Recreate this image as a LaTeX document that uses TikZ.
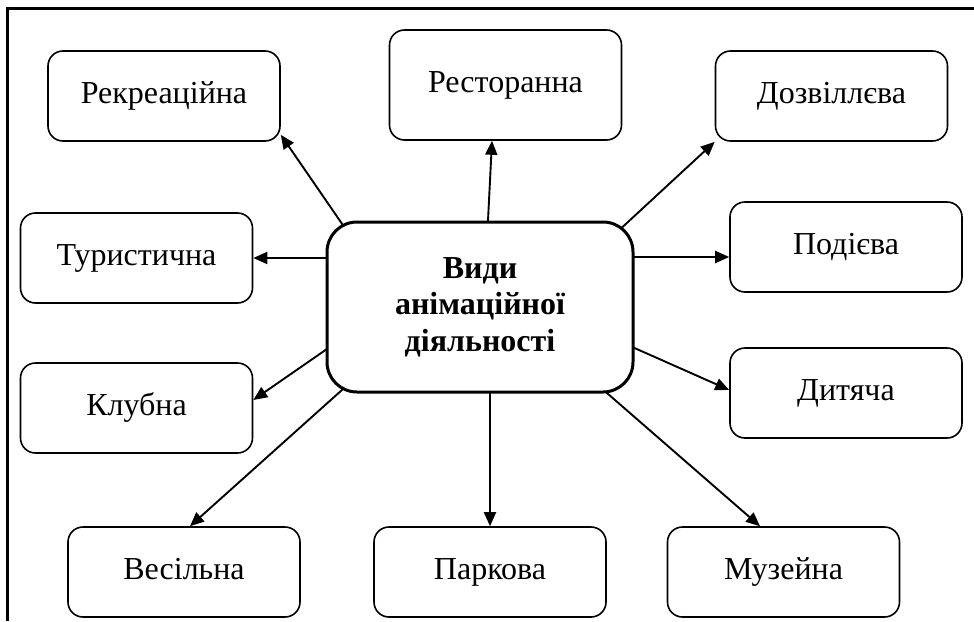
\documentclass[tikz,border=0pt]{standalone}
\usepackage{fontspec}
\setmainfont{Liberation Serif}
\usetikzlibrary{arrows.meta,backgrounds}
\begin{document}
\begin{tikzpicture}[x=1pt,y=-1pt,
  kind/.style={draw,fill=white,line width=1.6pt,rounded corners=15pt,
    minimum width=232pt,minimum height=90pt,inner sep=0pt,
    font=\fontsize{32}{36}\selectfont,text height=22pt,text depth=7pt},
  hub/.style={draw,fill=white,line width=3pt,rounded corners=30pt,
    minimum width=306pt,minimum height=170pt,inner sep=0pt,align=center,
    font=\fontsize{32}{36.5}\selectfont\bfseries},
  conn/.style={line width=1.9pt,shorten <=-8pt,
    -{Triangle[length=14pt,width=12pt]}},
  frame/.style={line width=3pt}]
\useasboundingbox (0,0) rectangle (974,621);
\draw[frame] (974,8) -- (7,8) -- (7,621);

\node[hub] (c) at (480,307) {Види\\анімаційної\\діяльності};
\node[kind] (rek) at (164,96) {Рекреаційна};
\node[kind,minimum height=110pt] (res) at (505.5,85) {Ресторанна};
\node[kind] (doz) at (831.5,96) {Дозвіллєва};
\node[kind] (tur) at (136.5,258) {Туристична};
\node[kind] (pod) at (846,247) {Подієва};
\node[kind] (klub) at (136.5,408) {Клубна};
\node[kind] (dyt) at (846,393) {Дитяча};
\node[kind] (ves) at (184,572) {Весільна};
\node[kind] (park) at (490,572) {Паркова};
\node[kind] (muz) at (783.5,572) {Музейна};
\coordinate (podin) at ([yshift=-10pt]pod.west);

\begin{scope}[on background layer]
\draw[conn] ([xshift=17pt,yshift=-4pt]c.north west) -- ([yshift=7pt]rek.south east);
\draw[conn] ([xshift=8pt]c.north) -- ([xshift=-13.5pt]res.south);
\draw[conn] ([xshift=-12.5pt,yshift=-7pt]c.north east) -- (doz.south west);
\draw[conn] (c.west |- tur.east) -- (tur.east);
\draw[conn] (c.east |- podin) -- (podin);
\draw[conn] ([yshift=-43pt]c.west) -- ([yshift=8pt]klub.east);
\draw[conn] ([yshift=-41pt]c.east) -- ([yshift=3pt]dyt.west);
\draw[conn] ([xshift=17pt,yshift=4pt]c.south west) -- ([xshift=6pt]ves.north);
\draw[conn] (c.south -| park.north) -- (park.north);
\draw[conn] ([xshift=-27pt]c.south east) -- ([xshift=-23.5pt]muz.north);
\end{scope}
\end{tikzpicture}
\end{document}
